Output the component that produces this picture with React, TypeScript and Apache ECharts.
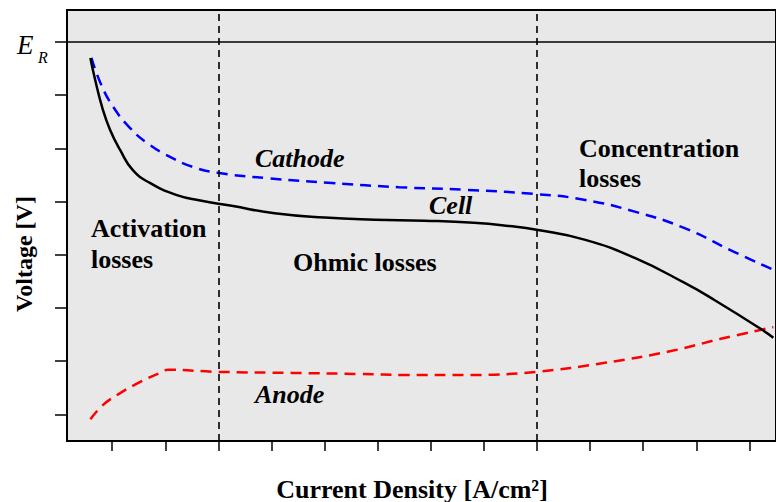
import React, { useEffect, useRef } from "react";
import * as echarts from "echarts";

// Polarization curve of a fuel cell: cell voltage with cathode and anode potentials
const cellCurrent = [0.59, 0.68, 0.81, 0.96, 1.15, 1.39, 1.71, 2.22, 2.66, 3.25, 4.06, 5.0, 5.94, 6.88, 7.81, 8.47, 8.99, 9.91, 10.84, 11.78, 12.34, 13.24, 13.45];
const cellVoltage = [7.7, 7.29, 6.78, 6.35, 5.97, 5.59, 5.35, 5.12, 5.02, 4.92, 4.78, 4.7, 4.66, 4.64, 4.6, 4.54, 4.47, 4.28, 3.94, 3.47, 3.15, 2.59, 2.44];

const cathodeCurrent = [0.61, 0.78, 1.02, 1.34, 1.66, 2.09, 2.52, 2.99, 3.91, 5.14, 6.4, 7.66, 8.99, 9.91, 10.84, 11.78, 12.72, 13.45];
const cathodeVoltage = [7.7, 7.23, 6.78, 6.38, 6.1, 5.84, 5.65, 5.54, 5.44, 5.35, 5.27, 5.22, 5.14, 5.03, 4.81, 4.5, 4.05, 3.72];

const anodeCurrent = [0.59, 0.83, 1.15, 1.53, 1.9, 2.05, 2.97, 4.39, 5.65, 6.53, 7.77, 8.99, 10.28, 11.52, 12.46, 13.45];
const anodeVoltage = [0.91, 1.18, 1.4, 1.61, 1.78, 1.84, 1.8, 1.78, 1.76, 1.74, 1.74, 1.8, 1.97, 2.19, 2.42, 2.64];

// Region boundaries (current density) and reversible voltage level
const regionBounds = [3, 9];
const reversibleVoltage = 8;

const xTicks = [1, 2, 3, 4, 5, 6, 7, 8, 9, 10, 11, 12, 13];
const yTicks = [1, 2, 3, 4, 5, 6, 7, 8];

const zip = (xs: number[], ys: number[]) => xs.map((x, i) => [x, ys[i]]);

const SERIF = "Liberation Serif";

const textStyle = (
  text: string,
  size: number,
  opts: { bold?: boolean; italic?: boolean; align?: string } = {}
) => ({
  text,
  fill: "#000",
  fontFamily: SERIF,
  fontSize: size,
  fontWeight: opts.bold ? "bold" : "normal",
  fontStyle: opts.italic ? "italic" : "normal",
  align: opts.align || "left",
  verticalAlign: "middle",
});

export default function App() {
  const ref = useRef<HTMLDivElement>(null);

  useEffect(() => {
    if (!ref.current) return;
    const chart = echarts.init(ref.current, undefined, { renderer: "svg" });

    const note = (text: string, x: number, y: number, italic = false) => ({
      type: "text",
      x,
      y,
      z: 10,
      style: textStyle(text, 26, { bold: true, italic }),
    });

    chart.setOption({
      animation: false,
      backgroundColor: "#fff",
      grid: {
        left: 67,
        top: 10,
        width: 712,
        height: 431,
        show: true,
        backgroundColor: "#e8e8e8",
        borderColor: "#000",
        borderWidth: 2,
      },
      xAxis: {
        type: "value",
        min: 0.15,
        max: 13.5,
        axisLine: { show: true, onZero: false, lineStyle: { color: "#000", width: 2 } },
        axisTick: {
          show: true,
          customValues: xTicks,
          length: 10,
          lineStyle: { color: "#000", width: 1.5 },
        },
        axisLabel: { show: false },
        splitLine: { show: false },
      },
      yAxis: {
        type: "value",
        min: 0.5,
        max: 8.6,
        axisLine: { show: true, onZero: false, lineStyle: { color: "#000", width: 2 } },
        axisTick: {
          show: true,
          customValues: yTicks,
          length: 12,
          lineStyle: { color: "#000", width: 1.5 },
        },
        axisLabel: { show: false },
        splitLine: { show: false },
      },
      series: [
        {
          name: "Cell",
          type: "line",
          data: zip(cellCurrent, cellVoltage),
          smooth: 0.5,
          showSymbol: false,
          lineStyle: { color: "#000", width: 2.5 },
          z: 4,
          markLine: {
            silent: true,
            symbol: "none",
            label: { show: false },
            data: [
              ...regionBounds.map((x) => ({
                xAxis: x,
                lineStyle: { color: "#000", width: 1.6, type: [7, 5] },
              })),
              {
                yAxis: reversibleVoltage,
                lineStyle: { color: "#000", width: 1.5, type: "solid" },
              },
            ],
          },
        },
        {
          name: "Cathode",
          type: "line",
          data: zip(cathodeCurrent, cathodeVoltage),
          smooth: 0.5,
          showSymbol: false,
          lineStyle: { color: "#0000ff", width: 2.5, type: [11, 7] },
          z: 3,
        },
        {
          name: "Anode",
          type: "line",
          data: zip(anodeCurrent, anodeVoltage),
          smooth: 0.4,
          showSymbol: false,
          lineStyle: { color: "#ff0000", width: 2.5, type: [11, 7] },
          z: 3,
        },
      ],
      graphic: [
        // Reversible voltage label E_R
        { type: "text", x: 17, y: 45, style: textStyle("E", 27, { italic: true }) },
        { type: "text", x: 38, y: 57, style: textStyle("R", 16, { italic: true }) },
        // Axis titles
        {
          type: "text",
          x: 24,
          y: 254,
          rotation: Math.PI / 2,
          style: textStyle("Voltage [V]", 24, { bold: true, align: "center" }),
        },
        {
          type: "text",
          x: 412,
          y: 489,
          style: textStyle("Current Density [A/cm²]", 26, { bold: true, align: "center" }),
        },
        // Loss regions
        note("Activation", 91, 228),
        note("losses", 91, 259),
        note("Ohmic losses", 293, 262),
        note("Concentration", 579, 148),
        note("losses", 579, 178),
        // Curve names
        note("Cathode", 255, 158, true),
        note("Cell", 429, 205, true),
        note("Anode", 255, 394, true),
      ],
    });

    return () => chart.dispose();
  }, []);

  return (
    <div
      ref={ref}
      style={{ position: "fixed", left: 0, top: 0, width: 776, height: 502 }}
    />
  );
}
